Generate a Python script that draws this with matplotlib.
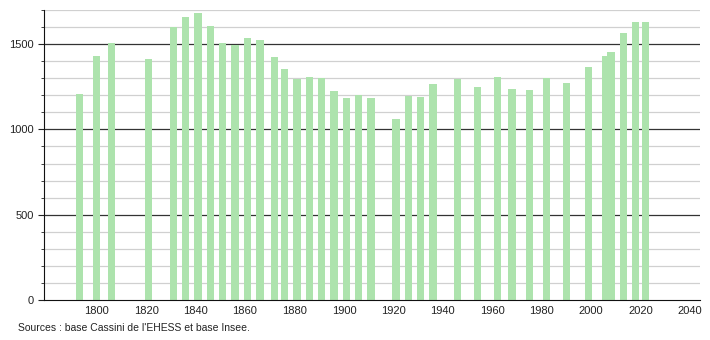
import matplotlib
matplotlib.use("Agg")
import matplotlib.pyplot as plt

years = [1793, 1800, 1806, 1821, 1831, 1836, 1841, 1846, 1851, 1856, 1861, 1866,
         1872, 1876, 1881, 1886, 1891, 1896, 1901, 1906, 1911, 1921, 1926, 1931,
         1936, 1946, 1954, 1962, 1968, 1975, 1982, 1990, 1999, 2006, 2008, 2013,
         2018, 2022]
population = [1205, 1430, 1505, 1415, 1598, 1657, 1682, 1608, 1506, 1494, 1533, 1525,
              1427, 1353, 1298, 1310, 1304, 1225, 1182, 1202, 1182, 1059, 1196, 1192,
              1269, 1294, 1247, 1310, 1235, 1229, 1304, 1275, 1363, 1431, 1451, 1565,
              1627, 1627]
xticks = [1800, 1820, 1840, 1860, 1880, 1900, 1920, 1940, 1960, 1980, 2000, 2020, 2040]
yticks_major = [0, 500, 1000, 1500]
source_text = "Sources : base Cassini de l'EHESS et base Insee."

plt.rcParams['font.family'] = ['Liberation Sans Narrow', 'Liberation Sans', 'DejaVu Sans']

fig = plt.figure(figsize=(7.1, 3.4), dpi=100)
ax = fig.add_axes([44/710, 40/340, 656/710, 290/340])

# grid
for y in range(100, 1800, 100):
    if y % 500 == 0:
        ax.axhline(y, color='#333333', lw=0.9, zorder=1)
    else:
        ax.axhline(y, color='#d0d0d0', lw=0.9, zorder=1)

ax.bar(years, population, width=3.0, color='#ade3ad', zorder=2)

ax.set_xlim(1778.7, 2044)
ax.set_ylim(0, 1700)
ax.set_xticks(xticks)
ax.set_xticklabels([str(x) for x in xticks])
ax.set_yticks(yticks_major)
ax.set_yticks(range(0, 1800, 100), minor=True)
ax.tick_params(axis='x', length=0, labelsize=8, pad=4, colors='#222222')
ax.tick_params(axis='y', which='major', length=4, labelsize=8, colors='#222222')
ax.tick_params(axis='y', which='minor', length=2, colors='#222222')
for s in ['top', 'right']:
    ax.spines[s].set_visible(False)
ax.spines['left'].set_color('#111111')
ax.spines['bottom'].set_color('#111111')

fig.text(18/710, 1 - 328/340, source_text, fontsize=7.5, color='#222222', va='center', ha='left')

fig.savefig("out.png", dpi=100)
